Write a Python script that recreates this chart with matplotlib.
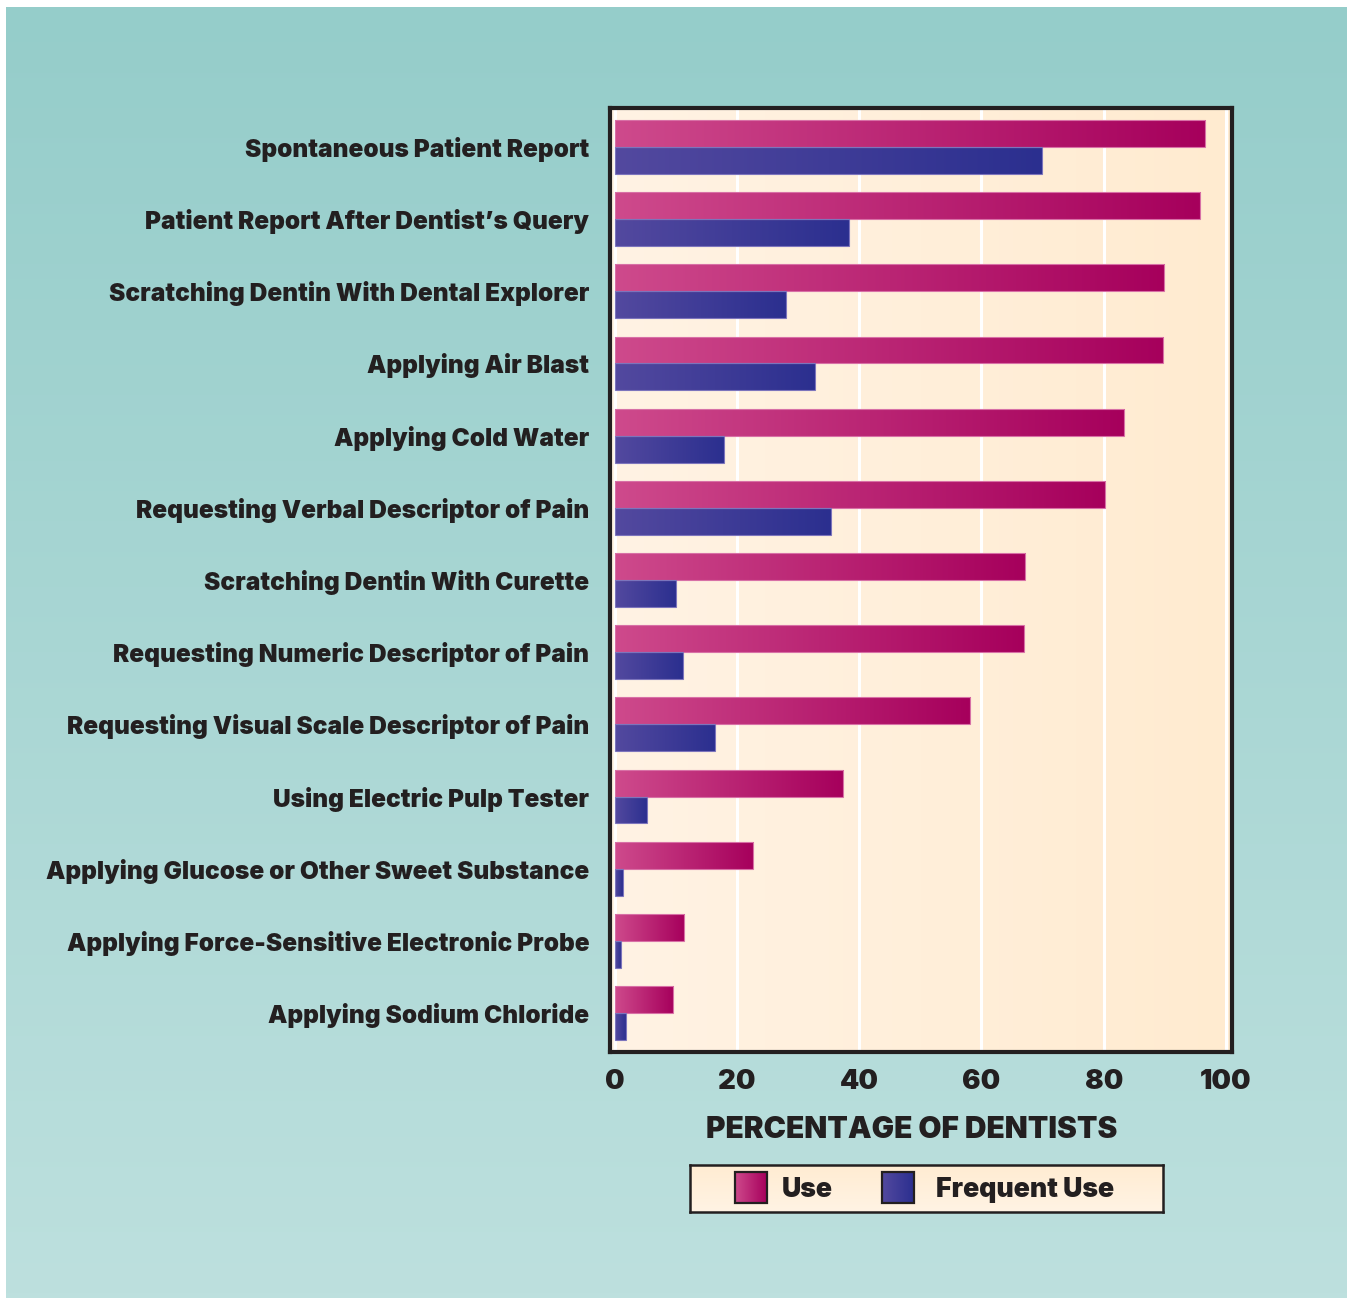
import numpy as np
import matplotlib
matplotlib.use('Agg')
import matplotlib.pyplot as plt
from matplotlib.colors import to_rgb

categories = [
    "Spontaneous Patient Report",
    "Patient Report After Dentist\u2019s Query",
    "Scratching Dentin With Dental Explorer",
    "Applying Air Blast",
    "Applying Cold Water",
    "Requesting Verbal Descriptor of Pain",
    "Scratching Dentin With Curette",
    "Requesting Numeric Descriptor of Pain",
    "Requesting Visual Scale Descriptor of Pain",
    "Using Electric Pulp Tester",
    "Applying Glucose or Other Sweet Substance",
    "Applying Force-Sensitive Electronic Probe",
    "Applying Sodium Chloride",
]
use_pct = [96.6, 95.8, 89.9, 89.7, 83.3, 80.2, 67.2, 66.9, 58.1, 37.3, 22.6, 11.3, 9.5]
frequent_pct = [69.9, 38.3, 28.1, 32.8, 17.8, 35.4, 10.0, 11.1, 16.4, 5.3, 1.3, 1.0, 1.9]
series_names = ["Use", "Frequent Use"]
x_ticks = [0, 20, 40, 60, 80, 100]
x_label = "PERCENTAGE OF DENTISTS"

FAM = ['Inter', 'Lato', 'DejaVu Sans']
plt.rcParams['font.family'] = FAM
plt.rcParams['font.weight'] = 900
TXT = '#231f20'
W, H = 1348, 1298
fig = plt.figure(figsize=(W / 100, H / 100), dpi=100)
fig.patch.set_facecolor('white')


def hgrad(c1, c2, n=256):
    a = np.array(to_rgb(c1)); b = np.array(to_rgb(c2))
    t = np.linspace(0, 1, n)[None, :, None]
    return a[None, None, :] * (1 - t) + b[None, None, :] * t


def vgrad(c1, c2, n=256):
    a = np.array(to_rgb(c1)); b = np.array(to_rgb(c2))
    t = np.linspace(0, 1, n)[:, None, None]
    return a[None, None, :] * (1 - t) + b[None, None, :] * t


# teal background panel
bg = fig.add_axes([6 / W, 0, (W - 7) / W, 1 - 7 / H], zorder=0)
bg.imshow(vgrad('#95cdca', '#bde0de'), aspect='auto', extent=(0, 1, 0, 1))
bg.set_xlim(0, 1); bg.set_ylim(0, 1)
bg.axis('off')

USE_C = ('#ce4a8c', '#a6005c')
FRQ_C = ('#53499f', '#2b2f8f')

ax = fig.add_axes([609.5 / W, 1 - 1052 / H, 622 / W, 944 / H], zorder=2)
xlim = (-0.85, 100.9)
ylim = (12.54, -0.54)

# cream plot background gradient
t = np.linspace(0, 1, 128)
cream_l = np.array(to_rgb('#fff3e4')); cream_r = np.array(to_rgb('#ffebd0'))
cream = cream_l[None, None, :] * (1 - t)[None, :, None] + cream_r[None, None, :] * t[None, :, None]
ax.imshow(cream, aspect='auto', extent=(xlim[0], xlim[1], ylim[0], ylim[1]), zorder=0)

y = np.arange(len(categories))
bh = 0.372
bars_use = ax.barh(y - bh / 2, use_pct, height=bh, color='none',
                   edgecolor='#d870a6', linewidth=0.8, zorder=3)
bars_frq = ax.barh(y + bh / 2, frequent_pct, height=bh, color='none',
                   edgecolor='#7c74bc', linewidth=0.8, zorder=3)
for bars, cols in ((bars_use, USE_C), (bars_frq, FRQ_C)):
    g = hgrad(*cols)
    for p in bars:
        x0, y0, w, h = p.get_x(), p.get_y(), p.get_width(), p.get_height()
        im = ax.imshow(g, aspect='auto', extent=(x0, x0 + w, y0 + h, y0),
                       zorder=2.5, interpolation='bilinear')
        im.set_clip_path(p)

ax.set_xlim(*xlim)
ax.set_ylim(*ylim)
ax.set_xticks(x_ticks)
ax.set_xticklabels([str(v) for v in x_ticks])
ax.set_yticks(y)
ax.set_yticklabels(categories)
ax.grid(axis='x', color='white', linewidth=2.2, zorder=1)
ax.set_axisbelow(True)
ax.tick_params(axis='both', length=0, colors=TXT)
ax.tick_params(axis='y', pad=14.5, labelsize=17.6)
ax.tick_params(axis='x', pad=12, labelsize=19.8)
for lab in ax.get_yticklabels() + ax.get_xticklabels():
    lab.set_fontweight(900)
    lab.set_family(FAM)
for s in ax.spines.values():
    s.set_linewidth(3)
    s.set_color(TXT)

fig.text(912 / W, 1 - 1130 / H, x_label, ha='center', va='center',
         fontsize=21.5, fontweight=900, color=TXT, family=FAM)

# legend box
lax = fig.add_axes([690 / W, 1 - 1212 / H, 473 / W, 47 / H], zorder=3)
lax.set_xlim(0, 473); lax.set_ylim(0, 47)
lax.imshow(vgrad('#ffecd2', '#fff3e4'), aspect='auto', extent=(0, 473, 0, 47), zorder=0)
lax.set_xticks([]); lax.set_yticks([])
for s in lax.spines.values():
    s.set_linewidth(1.8); s.set_color(TXT)
sw = [(45, USE_C, 91.5), (192.5, FRQ_C, 246)]
for (sx, cols, tx), name in zip(sw, series_names):
    lax.imshow(hgrad(*cols), aspect='auto', extent=(sx, sx + 32, 9, 40), zorder=2)
    lax.add_patch(plt.Rectangle((sx, 9), 32, 31, fill=False, edgecolor=TXT, lw=1.6, zorder=3))
    lax.text(tx, 22, name, ha='left', va='center', fontsize=19.2, fontweight=900,
             color=TXT, family=FAM)
lax.set_xlim(0, 473); lax.set_ylim(0, 47)

fig.savefig('out.png', dpi=100, facecolor=fig.get_facecolor())
